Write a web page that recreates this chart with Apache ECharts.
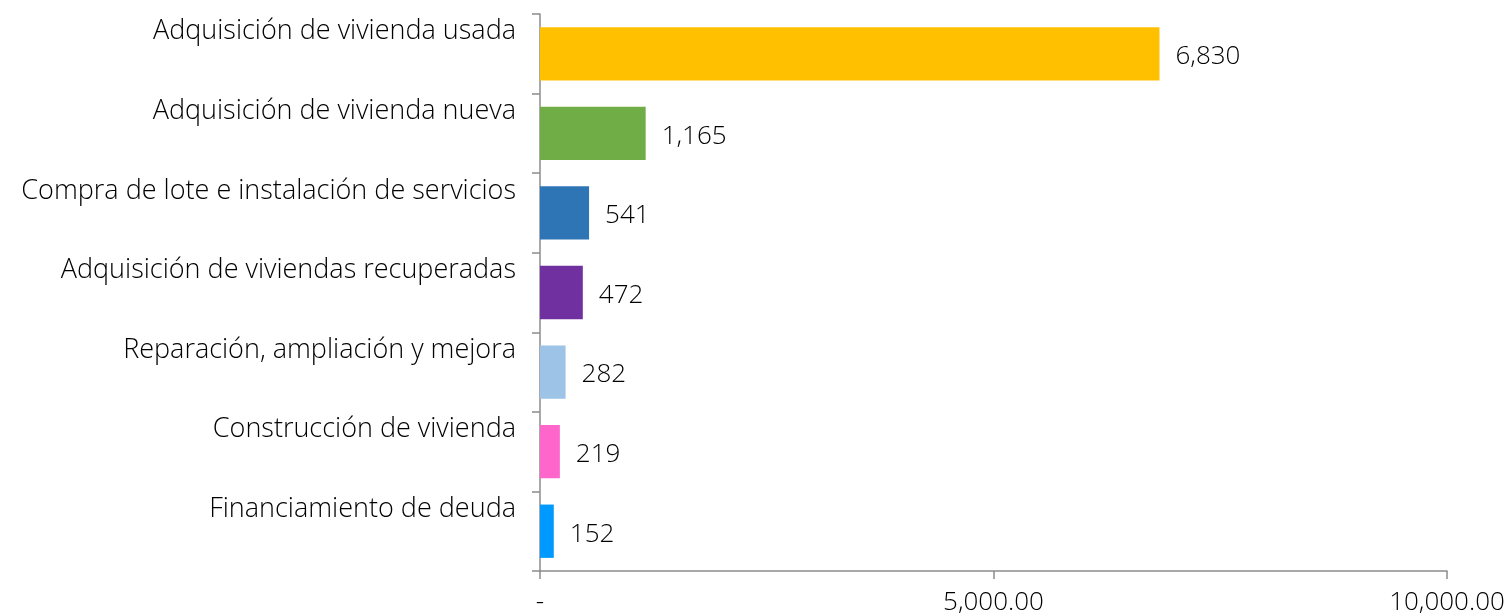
<!DOCTYPE html>
<html>
<head>
<meta charset="utf-8">
<script src="https://cdn.jsdelivr.net/npm/echarts@6/dist/echarts.min.js"></script>
<style>html,body{margin:0;padding:0;background:#fff}#c{width:1511px;height:616px}</style>
</head>
<body>
<div id="c"></div>
<script>
const categories = [
  "Adquisición de vivienda usada",
  "Adquisición de vivienda nueva",
  "Compra de lote e instalación de servicios",
  "Adquisición de viviendas recuperadas",
  "Reparación, ampliación y mejora",
  "Construcción de vivienda",
  "Financiamiento de deuda"
];
const values = [6830, 1165, 541, 472, 282, 219, 152];
const barColors = ["#FFC000", "#70AD47", "#2E75B6", "#7030A0", "#9DC3E6", "#FF66CC", "#0099FF"];
const xTicks = [0, 5000, 10000];

const FONT = "'Open Sans', 'DejaVu Sans', sans-serif";
const chart = echarts.init(document.getElementById('c'));
chart.setOption({
  animation: false,
  grid: { left: 540, right: 64, top: 14, bottom: 44, containLabel: false },
  xAxis: {
    type: 'value', min: 0, max: 10000, interval: 5000,
    axisLine: { show: true, lineStyle: { color: '#8c8c8c', width: 1.5 } },
    axisTick: { show: true, length: 8, lineStyle: { color: '#8c8c8c', width: 1.5 } },
    splitLine: { show: false },
    axisLabel: {
      margin: 19, fontSize: 26, fontWeight: 300, color: '#000', fontFamily: FONT,
      formatter: v => v === 0 ? '-' : v.toLocaleString('en-US', { minimumFractionDigits: 2, maximumFractionDigits: 2 })
    }
  },
  yAxis: {
    type: 'category', data: categories, inverse: true,
    axisLine: { show: true, lineStyle: { color: '#8c8c8c', width: 1.5 } },
    axisTick: { show: true, length: 8, lineStyle: { color: '#8c8c8c', width: 1.5 } },
    axisLabel: {
      margin: 24, fontSize: 27, fontWeight: 300, color: '#000', fontFamily: FONT,
      lineHeight: 44, interval: 0, showMinLabel: true, showMaxLabel: true, hideOverlap: false,
      formatter: v => v + '\n '
    }
  },
  series: [{
    type: 'bar',
    data: values.map((v, i) => ({ value: v, itemStyle: { color: barColors[i] } })),
    barCategoryGap: '33%',
    label: {
      show: true, position: 'right', distance: 16, offset: [0, 3],
      fontSize: 26, fontWeight: 300, color: '#000', fontFamily: FONT,
      formatter: p => p.value.toLocaleString('en-US')
    }
  }]
});
</script>
</body>
</html>
